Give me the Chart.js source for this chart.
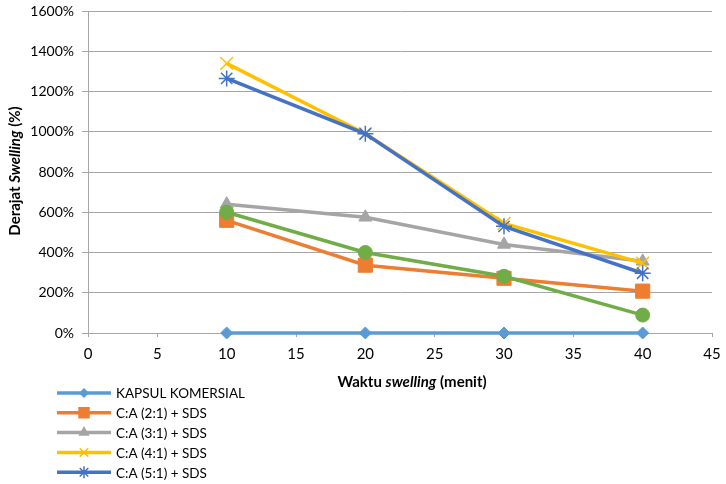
<!DOCTYPE html>
<html><head><meta charset="utf-8">
<script src="https://cdn.jsdelivr.net/npm/chart.js@4.4.0/dist/chart.umd.min.js"></script>
<style>html,body{margin:0;padding:0;background:#fff}#wrap{width:726px;height:484px}</style>
</head><body><div id="wrap"><canvas id="c" width="726" height="484"></canvas></div>
<script>
const xValues = [10, 20, 30, 40];
const kapsul = [0, 0, 0, 0];
const ca21 = [560, 337, 272, 208];
const ca31 = [640, 575, 440, 356];
const ca41 = [1340, 990, 545, 347];
const ca51 = [1265, 990, 530, 297];
const caGreen = [600, 400, 282, 89];
const seriesLabels = ['KAPSUL KOMERSIAL', 'C:A (2:1) + SDS', 'C:A (3:1) + SDS', 'C:A (4:1) + SDS', 'C:A (5:1) + SDS', ''];
const FONT = 'Lato, "Open Sans", sans-serif';

function pts(arr){ return arr.map((v,i)=>({x:xValues[i], y:v})); }
const styles = [
  {c:'#5B9BD5', p:'rectRot', r:6, lr:4},
  {c:'#ED7D31', p:'rect', r:10, lr:7},
  {c:'#A5A5A5', p:'triangle', r:7.5, lr:5},
  {c:'#FFC000', p:'crossRot', r:9, lr:6},
  {c:'#4472C4', p:'star', r:8, lr:6},
  {c:'#70AD47', p:'circle', r:7, lr:5}
];
const allData = [kapsul, ca21, ca31, ca41, ca51, caGreen];
const datasets = allData.map((d,i)=>({
  label: seriesLabels[i],
  data: pts(d),
  borderColor: styles[i].c,
  backgroundColor: styles[i].c,
  pointStyle: styles[i].p,
  pointRadius: styles[i].r,
  pointBorderWidth: (styles[i].p==='crossRot'||styles[i].p==='star') ? 1.5 : 1,
  borderWidth: 3.5,
  tension: 0,
  clip: false,
  order: 6 - i
}));

const extras = {
  id:'extras',
  afterDraw(chart){
    const ctx = chart.ctx;
    ctx.save();
    ctx.fillStyle = '#000';
    ctx.textBaseline = 'middle';
    const parts = [['Waktu ', 'bold'], ['swelling', 'italic bold'], [' (menit)', 'bold']];
    let total = 0;
    parts.forEach(p=>{ ctx.font = p[1]+' 15px '+FONT; total += ctx.measureText(p[0]).width; });
    let x = 412 - total/2;
    parts.forEach(p=>{ ctx.font = p[1]+' 15px '+FONT; ctx.textAlign='left'; ctx.fillText(p[0], x, 382); x += ctx.measureText(p[0]).width; });
    const yparts = [['Derajat ', 'bold'], ['Swelling', 'italic bold'], [' (%)', 'bold']];
    ctx.translate(15, 171);
    ctx.rotate(-Math.PI/2);
    total = 0;
    yparts.forEach(p=>{ ctx.font = p[1]+' 15px '+FONT; total += ctx.measureText(p[0]).width; });
    x = -total/2;
    yparts.forEach(p=>{ ctx.font = p[1]+' 15px '+FONT; ctx.fillText(p[0], x, 0); x += ctx.measureText(p[0]).width; });
    ctx.restore();
    // legend
    ctx.save();
    for (let i=0;i<5;i++){
      const y = 393 + i*19.8;
      ctx.strokeStyle = styles[i].c; ctx.lineWidth = 3.5;
      ctx.beginPath(); ctx.moveTo(57,y); ctx.lineTo(111,y); ctx.stroke();
      ctx.fillStyle = styles[i].c;
      ctx.lineWidth = 1.5;
      Chart.helpers.drawPoint(ctx, {pointStyle: styles[i].p, radius: styles[i].lr, rotation:0, borderWidth: 1.5}, 84, y);
      ctx.fillStyle = '#000';
      ctx.font = '13.5px '+FONT; ctx.textAlign='left'; ctx.textBaseline='middle';
      ctx.fillText(seriesLabels[i], 116, y+1);
    }
    ctx.restore();
  }
};

new Chart(document.getElementById('c'), {
  type:'line',
  data:{datasets},
  options:{
    responsive:false, animation:false,
    layout:{padding:{left:0, right:14, top:10, bottom:0}},
    plugins:{legend:{display:false}, tooltip:{enabled:false}},
    scales:{
      x:{type:'linear', min:0, max:45,
        ticks:{stepSize:5, color:'#000', font:{family:FONT, size:15}, padding:8},
        grid:{display:true, drawOnChartArea:false, drawTicks:true, tickLength:4, color:'#A6A6A6'},
        border:{color:'#A6A6A6', width:1},
        afterFit(s){ s.height = 151; s.paddingLeft = 0; s.paddingRight = 0; }
      },
      y:{min:0, max:1600,
        ticks:{stepSize:200, color:'#000', font:{family:FONT, size:14}, padding:8, callback:v=>v+'%'},
        grid:{color:'#A6A6A6', tickLength:6, drawTicks:true},
        border:{color:'#A6A6A6', width:1},
        afterFit(s){ s.width = 88; s.paddingTop = 0; s.paddingBottom = 0; }
      }
    }
  },
  plugins:[extras]
});
</script></body></html>
